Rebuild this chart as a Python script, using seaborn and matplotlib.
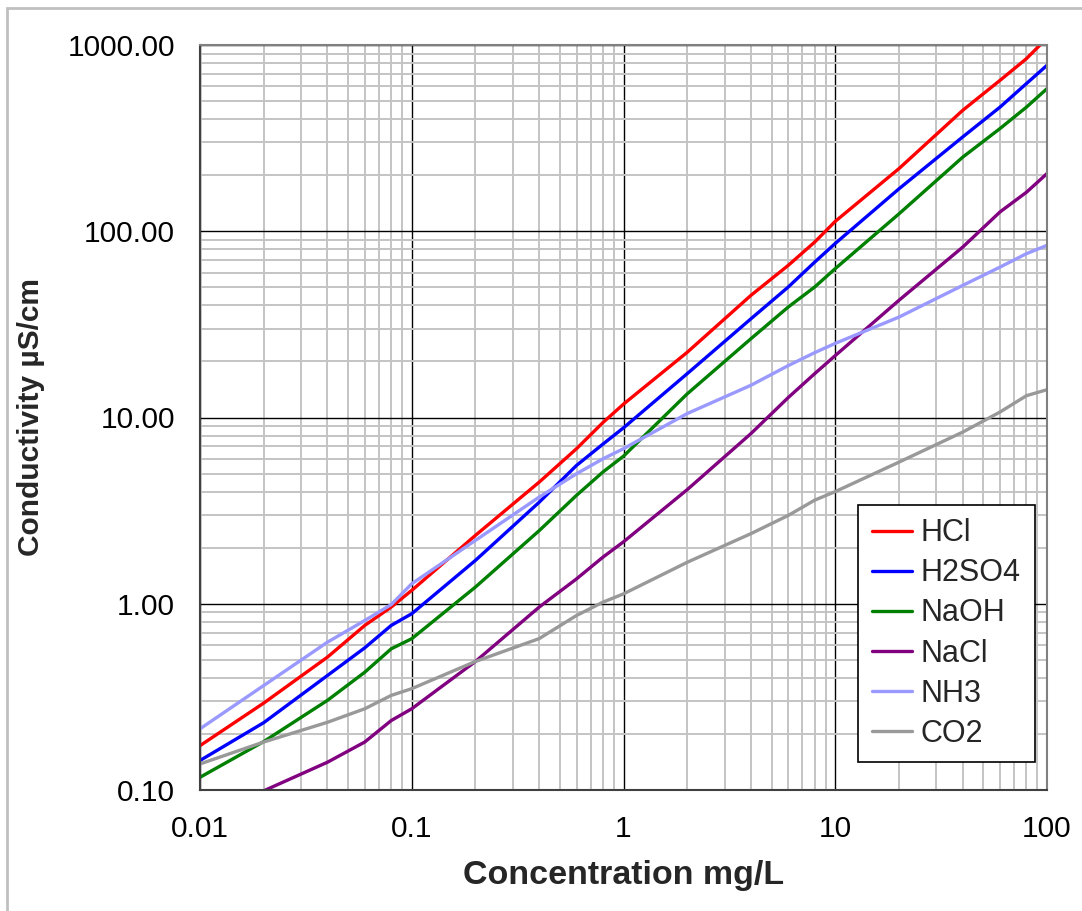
import numpy as np
import pandas as pd
import matplotlib
matplotlib.use("Agg")
import matplotlib.pyplot as plt
import matplotlib.ticker as mticker
from matplotlib.patches import Rectangle
import seaborn as sns

# concentration points (mg/L)
conc = [0.01, 0.02, 0.04, 0.06, 0.08, 0.1, 0.2, 0.4, 0.6, 0.8, 1,
        2, 4, 6, 8, 10, 20, 40, 60, 80, 100]

# conductivity (uS/cm)
hcl = [0.173, 0.293, 0.517, 0.765, 0.96, 1.18, 2.33, 4.5, 6.8, 9.4, 11.8,
       22.4, 45.3, 65.6, 87.5, 113, 217, 446, 646, 845, 1090]
h2so4 = [0.144, 0.230, 0.412, 0.580, 0.765, 0.884, 1.71, 3.51, 5.53, 7.2, 8.8,
         17.2, 33.9, 50.2, 68.3, 86, 169, 321, 464, 621, 778]
naoh = [0.117, 0.182, 0.303, 0.429, 0.573, 0.649, 1.23, 2.47, 3.82, 5.1, 6.2,
        13.4, 26.5, 39.2, 50.2, 63, 124, 250, 356, 464, 583]
nacl = [np.nan, 0.099, 0.141, 0.181, 0.236, 0.273, 0.49, 0.96, 1.36, 1.78, 2.15,
        4.1, 8.2, 12.8, 17.2, 21.5, 42.6, 82.2, 127, 162, 204]
nh3 = [0.213, 0.364, 0.622, 0.813, 0.99, 1.28, 2.19, 3.74, 4.99, 6.0, 6.8,
       10.5, 14.9, 19.0, 22.3, 25.0, 34.6, 51.2, 64.2, 75.8, 84]
co2 = [0.138, 0.181, 0.231, 0.273, 0.322, 0.35, 0.49, 0.65, 0.865, 1.02, 1.13,
       1.67, 2.38, 2.98, 3.6, 4.0, 5.76, 8.35, 10.7, 13.1, 14.1]

series = ["HCl", "H2SO4", "NaOH", "NaCl", "NH3", "CO2"]
colors = ["#FF0000", "#0000FF", "#008000", "#800080", "#9999FF", "#999999"]

x_ticks = [0.01, 0.1, 1, 10, 100]
x_labels = ["0.01", "0.1", "1", "10", "100"]
y_ticks = [0.1, 1, 10, 100, 1000]
y_labels = ["0.10", "1.00", "10.00", "100.00", "1000.00"]

frames = []
for name, vals in zip(series, [hcl, h2so4, naoh, nacl, nh3, co2]):
    frames.append(pd.DataFrame({"conc": conc, "cond": vals, "series": name}))
df = pd.concat(frames, ignore_index=True).dropna()

sns.set_style("white")
plt.rcParams["font.family"] = ["Liberation Sans", "DejaVu Sans"]

fig = plt.figure(figsize=(10.82, 9.11), dpi=100)
ax = fig.add_axes([200 / 1082, 1 - 790 / 911, 847 / 1082, 745 / 911])

ax.set_xscale("log")
ax.set_yscale("log")
ax.set_xlim(0.01, 100)
ax.set_ylim(0.1, 1000)

ax.grid(True, which="minor", color="#c4c4c4", linewidth=1.4)
ax.grid(True, which="major", color="black", linewidth=1.0)
ax.set_axisbelow(True)

sns.lineplot(data=df, x="conc", y="cond", hue="series", hue_order=series,
             palette=dict(zip(series, colors)), linewidth=2.4, ax=ax,
             sort=True, estimator=None)

ax.xaxis.set_major_locator(mticker.FixedLocator(x_ticks))
ax.xaxis.set_major_formatter(mticker.FixedFormatter(x_labels))
ax.yaxis.set_major_locator(mticker.FixedLocator(y_ticks))
ax.yaxis.set_major_formatter(mticker.FixedFormatter(y_labels))
ax.xaxis.set_minor_locator(mticker.LogLocator(base=10, subs=np.arange(2, 10)))
ax.yaxis.set_minor_locator(mticker.LogLocator(base=10, subs=np.arange(2, 10)))
ax.xaxis.set_minor_formatter(mticker.NullFormatter())
ax.yaxis.set_minor_formatter(mticker.NullFormatter())

ax.tick_params(axis="both", which="major", labelsize=21.5, length=8,
               width=1.2, color="#404040", direction="out", pad=10,
               labelcolor="black")
ax.tick_params(axis="both", which="minor", length=0)

for side in ["top", "right"]:
    ax.spines[side].set_color("#808080")
    ax.spines[side].set_linewidth(1.5)
for side in ["left", "bottom"]:
    ax.spines[side].set_color("#404040")
    ax.spines[side].set_linewidth(1.5)

ax.set_xlabel("Concentration mg/L", fontsize=24.5, fontweight="bold", labelpad=12)
ax.set_ylabel("Conductivity µS/cm", fontsize=21.5, fontweight="bold", labelpad=16)

leg = ax.legend(loc="lower right", bbox_to_anchor=(0.9855, 0.037), fontsize=22,
                frameon=True, fancybox=False, handlelength=1.3,
                handletextpad=0.3, borderpad=0.45, borderaxespad=0,
                labelspacing=0.33)
leg.get_frame().set_edgecolor("black")
leg.get_frame().set_linewidth(1.2)
leg.get_frame().set_alpha(1)
for line in leg.get_lines():
    line.set_linewidth(2.4)

fig.patches.append(Rectangle((7 / 1082, -0.1), 1.2, 1 - 8 / 911 + 0.1,
                             transform=fig.transFigure, fill=False,
                             edgecolor="#c0c0c0", linewidth=2))

fig.savefig("out.png", dpi=100)
